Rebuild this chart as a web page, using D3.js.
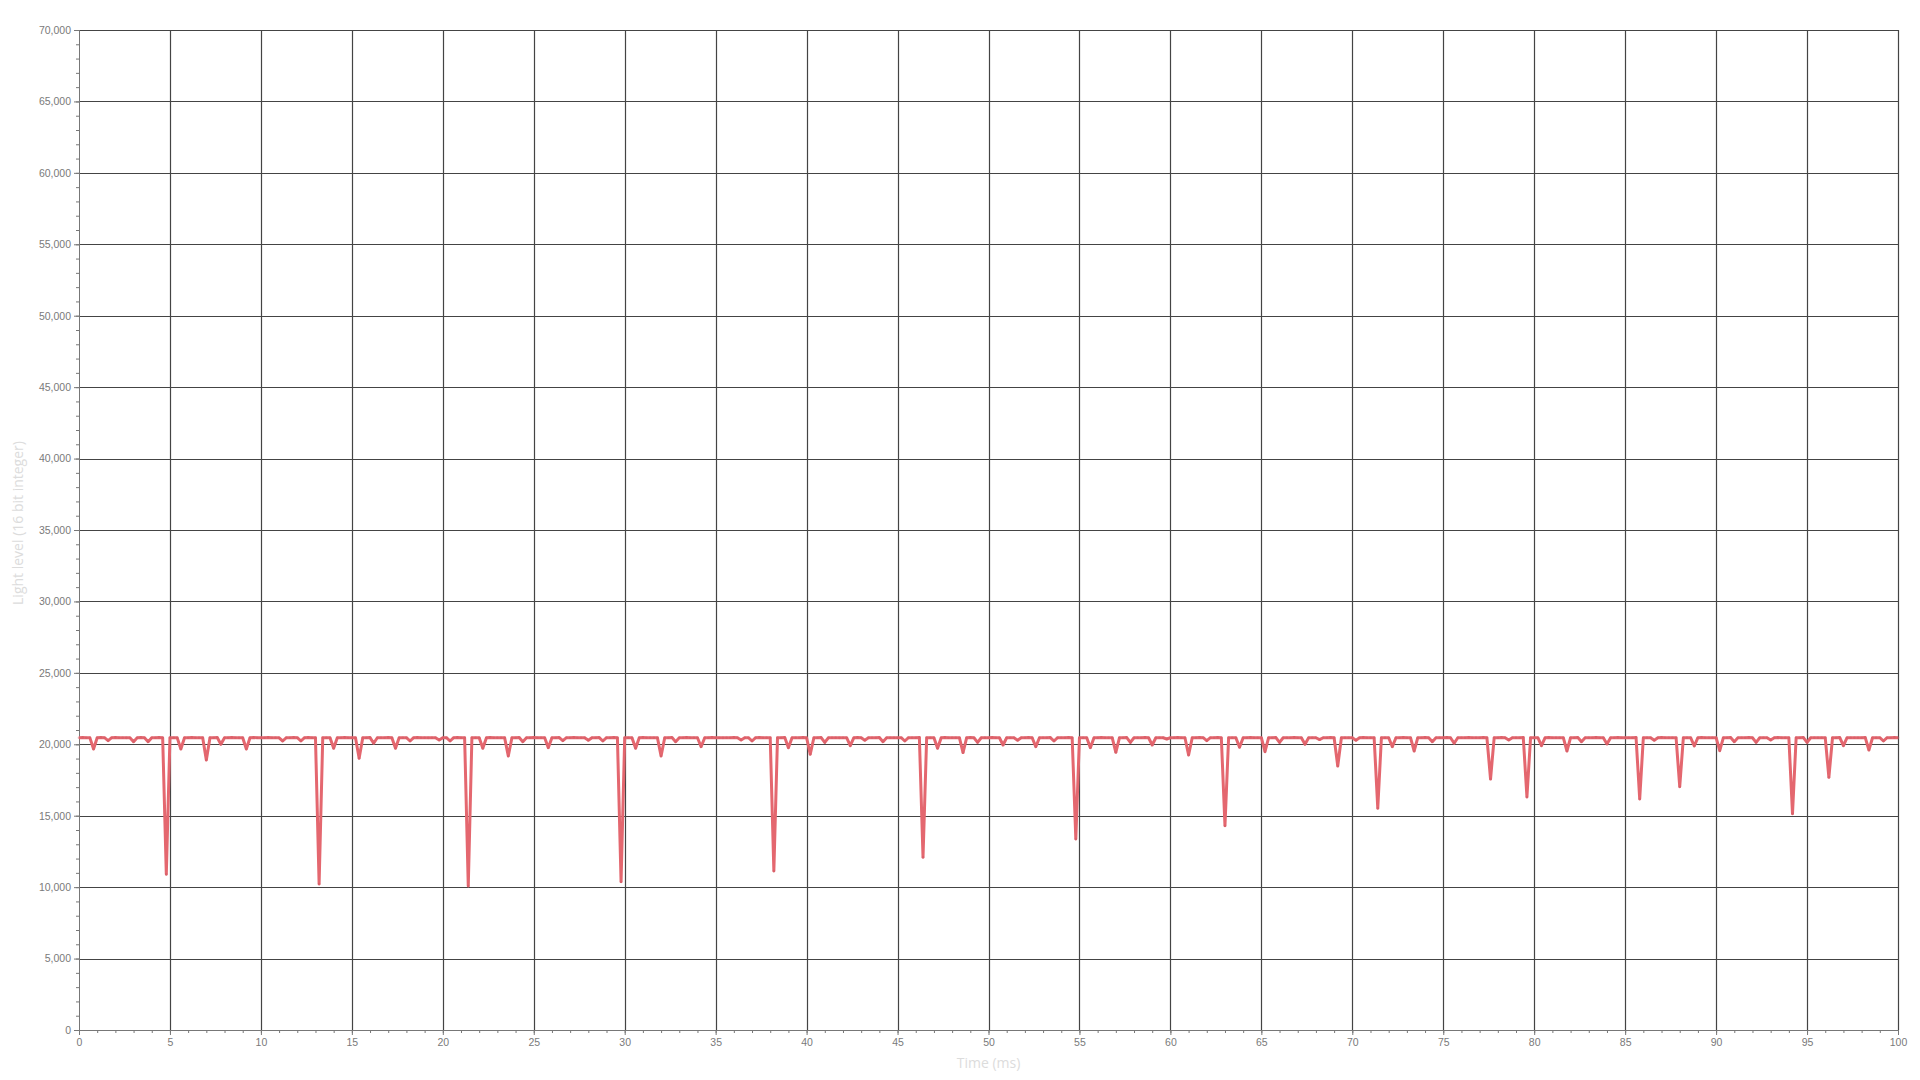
<!DOCTYPE html>
<html>
<head>
<meta charset="utf-8">
<script src="https://cdn.jsdelivr.net/npm/d3@7"></script>
<style>
  html, body { margin: 0; padding: 0; background: #fff; }
  svg { display: block; font-family: "Open Sans", "Noto Sans", sans-serif; }
  .tick text { fill: #7a7a7a; font-size: 10.5px; }
  .axis-title { fill: #dcdcdc; font-size: 14px; }
</style>
</head>
<body>
<div class="viz"></div>
<script>
//////////////////////////
// Data
//////////////////////////

// one sample every 0.2 ms
const SAMPLE_MS = 0.2;

const LIGHT = [
  20460,20470,20460,20450,19670,20460,20470,20460,20250,20460,
  20470,20460,20460,20450,20460,20180,20460,20470,20460,20180,
  20460,20460,20470,20460,10900,20460,20460,20450,19670,20460,
  20460,20470,20460,20460,20460,18900,20460,20460,20470,20000,
  20460,20460,20470,20460,20450,20460,19670,20460,20470,20460,
  20460,20460,20470,20460,20460,20450,20230,20460,20460,20470,
  20460,20230,20460,20470,20460,20460,10220,20460,20460,20450,
  19720,20460,20460,20470,20460,20460,20460,19020,20460,20460,
  20470,20070,20460,20460,20460,20470,20460,19720,20460,20460,
  20460,20230,20460,20470,20460,20460,20450,20460,20460,20300,
  20460,20460,20230,20460,20470,20460,20460,10080,20460,20460,
  20460,19720,20460,20470,20460,20460,20460,20450,19180,20460,
  20460,20470,20180,20460,20460,20470,20460,20460,20460,19760,
  20460,20460,20470,20250,20460,20460,20470,20460,20460,20450,
  20280,20460,20460,20470,20230,20460,20460,20470,20460,10380,
  20460,20460,20460,19720,20460,20470,20460,20460,20460,20450,
  19180,20460,20460,20470,20180,20460,20460,20470,20460,20460,
  20460,19830,20460,20460,20470,20460,20460,20450,20460,20460,
  20470,20460,20300,20460,20460,20230,20460,20470,20460,20460,
  20460,11130,20460,20460,20470,19760,20460,20460,20460,20470,
  20460,19300,20460,20460,20470,20130,20460,20460,20460,20450,
  20460,20460,19900,20460,20470,20460,20280,20460,20460,20460,
  20470,20180,20460,20460,20460,20450,20460,20230,20460,20460,
  20460,20470,12090,20460,20460,20460,19720,20460,20470,20460,
  20460,20460,20460,19420,20460,20470,20460,20130,20460,20460,
  20460,20470,20460,20460,19950,20460,20460,20460,20280,20460,
  20460,20470,20460,19830,20460,20460,20460,20470,20230,20460,
  20460,20460,20470,20460,13370,20460,20460,20460,19760,20460,
  20460,20470,20460,20460,20460,19440,20460,20460,20470,20130,
  20460,20460,20460,20470,20460,19950,20460,20460,20460,20370,
  20460,20460,20470,20460,20460,19250,20460,20460,20470,20460,
  20250,20460,20460,20470,20460,14300,20460,20460,20460,19790,
  20460,20460,20470,20460,20460,20460,19480,20460,20460,20470,
  20130,20460,20460,20460,20470,20460,20460,20000,20460,20460,
  20460,20330,20460,20460,20470,20460,18480,20460,20460,20460,
  20460,20280,20460,20470,20460,20460,20460,15520,20460,20460,
  20460,19830,20460,20460,20470,20460,20460,19530,20460,20460,
  20470,20460,20180,20460,20460,20460,20470,20460,20070,20460,
  20460,20460,20470,20460,20460,20460,20470,20460,17570,20460,
  20460,20470,20460,20300,20460,20460,20460,20470,16310,20460,
  20460,20460,19900,20460,20470,20460,20460,20460,20460,19530,
  20460,20460,20470,20180,20460,20460,20460,20470,20460,20460,
  20020,20460,20460,20470,20460,20460,20460,20460,20470,16170,
  20460,20460,20460,20280,20460,20470,20460,20460,20460,20460,
  17030,20460,20460,20460,19880,20460,20470,20460,20460,20460,
  20460,19550,20460,20460,20470,20180,20460,20460,20460,20470,
  20460,20130,20460,20460,20460,20300,20460,20470,20460,20460,
  20460,15140,20460,20460,20470,20130,20460,20460,20460,20460,
  20460,17690,20460,20460,20470,19900,20460,20460,20460,20460,
  20460,20470,19600,20460,20460,20460,20230,20460,20460,20470,
  20460
];

const X_TICKS = d3.range(0, 101, 5);        // 0 .. 100 ms
const Y_TICKS = d3.range(0, 70001, 5000);   // 0 .. 70,000
const X_MINOR = d3.range(0, 101, 1);
const Y_MINOR = d3.range(0, 70001, 1000);

const X_TITLE = 'Time (ms)';
const Y_TITLE = 'Light level (16 bit integer)';

//////////////////////////
// D3 Stuff
//////////////////////////

var margins = { top: 30, right: 22, bottom: 50, left: 79 };
const W = 1920, H = 1080;
const width = W - margins.left - margins.right;
const height = H - margins.top - margins.bottom;

var svg = d3.select('div.viz')
    .append('svg')
    .attr('width', W)
    .attr('height', H);

var g = svg.append('g')
    .attr('transform', 'translate(' + margins.left + ',' + margins.top + ')');

var xScale = d3.scaleLinear().domain([0, 100]).range([0, width]);
var yScale = d3.scaleLinear().domain([0, 70000]).range([height, 0]);

var px = (v) => Math.round(v) + 0.5;

// grid
var grid = g.append('g').attr('class', 'grid');
grid.selectAll('line.vgrid')
    .data(X_TICKS.filter((d) => d > 0))
    .enter().append('line')
    .attr('x1', (d) => px(xScale(d))).attr('x2', (d) => px(xScale(d)))
    .attr('y1', 0).attr('y2', height)
    .attr('stroke', '#444').attr('stroke-width', 1.2);
grid.selectAll('line.hgrid')
    .data(Y_TICKS.filter((d) => d > 0))
    .enter().append('line')
    .attr('y1', (d) => px(yScale(d))).attr('y2', (d) => px(yScale(d)))
    .attr('x1', 0).attr('x2', width)
    .attr('stroke', '#444').attr('stroke-width', 1.2);

// minor ticks
var xMinorAxis = g.append('g')
    .attr('transform', 'translate(0,' + height + ')')
    .call(d3.axisBottom(xScale).tickValues(X_MINOR).tickSize(3).tickFormat(''));
var yMinorAxis = g.append('g')
    .call(d3.axisLeft(yScale).tickValues(Y_MINOR).tickSize(3).tickFormat(''));

// major axes
var xAxis = g.append('g')
    .attr('class', 'x-axis')
    .attr('transform', 'translate(0,' + height + ')')
    .call(d3.axisBottom(xScale).tickValues(X_TICKS).tickSize(5).tickPadding(4).tickFormat(d3.format('d')));
var yAxis = g.append('g')
    .attr('class', 'y-axis')
    .call(d3.axisLeft(yScale).tickValues(Y_TICKS).tickSize(5).tickPadding(3).tickFormat(d3.format(',')));

g.selectAll('.domain').attr('stroke', '#777');
g.selectAll('.tick line').attr('stroke', '#777');

// series
var line = d3.line()
    .x((d, i) => xScale(i * SAMPLE_MS))
    .y((d) => yScale(d));

g.append('path')
    .datum(LIGHT)
    .attr('fill', 'none')
    .attr('stroke', '#e4676f')
    .attr('stroke-width', 3)
    .attr('stroke-linejoin', 'round')
    .attr('d', line);

g.selectAll('circle.pt')
    .data(LIGHT)
    .enter().append('circle')
    .attr('class', 'pt')
    .attr('cx', (d, i) => xScale(i * SAMPLE_MS))
    .attr('cy', (d) => yScale(d))
    .attr('r', 1.3)
    .attr('fill', '#cf5c66')
    .attr('opacity', 0.5);

// axis titles
svg.append('text')
    .attr('class', 'axis-title')
    .attr('x', margins.left + width / 2)
    .attr('y', 1068)
    .attr('text-anchor', 'middle')
    .text(X_TITLE);

svg.append('text')
    .attr('class', 'axis-title')
    .attr('transform', 'translate(23,523) rotate(-90)')
    .attr('text-anchor', 'middle')
    .text(Y_TITLE);
</script>
</body>
</html>
